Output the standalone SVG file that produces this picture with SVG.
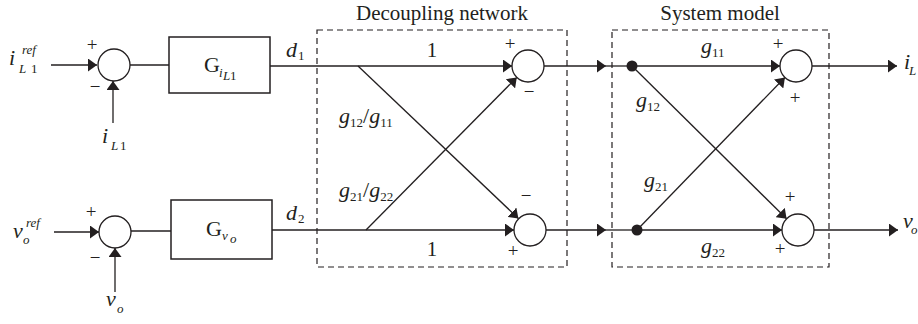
<svg xmlns="http://www.w3.org/2000/svg" width="918" height="324" viewBox="0 0 918 324">
<style>
.ln{stroke:#231f20;stroke-width:1.3;fill:none}
.dash{stroke:#231f20;stroke-width:1.2;fill:none;stroke-dasharray:6 4}
.sum{fill:#fff;stroke:#231f20;stroke-width:1.3}
.blk{fill:#fff;stroke:#231f20;stroke-width:1.5}
text{font-family:"Liberation Serif","Times New Roman",serif;fill:#231f20}
.it{font-style:italic;font-size:22px}
.sub{font-style:italic;font-size:13px}
.subr{font-style:normal;font-size:13px}
.sg{font-size:19px;text-anchor:middle}
.ttl{font-size:21px;text-anchor:middle}
.num{font-size:21px;text-anchor:middle}
.G{font-size:22px}
</style>
<defs>
<marker id="ah" markerUnits="userSpaceOnUse" markerWidth="10" markerHeight="13" refX="9" refY="6.5" orient="auto">
<path d="M0,0 L9,6.5 L0,13 z" fill="#231f20"/>
</marker>
</defs>

<g id="connectors">
<line class="ln" x1="51" y1="65" x2="97" y2="65" marker-end="url(#ah)"/>
<line class="ln" x1="113" y1="123" x2="113" y2="81" marker-end="url(#ah)"/>
<line class="ln" x1="130" y1="65" x2="169" y2="65"/>
<line class="ln" x1="54" y1="232" x2="99" y2="232" marker-end="url(#ah)"/>
<line class="ln" x1="115" y1="292" x2="115" y2="248" marker-end="url(#ah)"/>
<line class="ln" x1="131" y1="231" x2="171" y2="231"/>
<line class="ln" x1="270" y1="66" x2="512" y2="66" marker-end="url(#ah)"/>
<line class="ln" x1="272" y1="230" x2="514" y2="230" marker-end="url(#ah)"/>
<line class="ln" x1="358" y1="66" x2="518.4" y2="218.5" marker-end="url(#ah)"/>
<line class="ln" x1="366" y1="230" x2="516.8" y2="77.4" marker-end="url(#ah)"/>
<line class="ln" x1="544" y1="66" x2="606" y2="66" marker-end="url(#ah)"/>
<line class="ln" x1="606" y1="66" x2="632" y2="66"/>
<line class="ln" x1="546" y1="230" x2="606" y2="230" marker-end="url(#ah)"/>
<line class="ln" x1="606" y1="230" x2="637" y2="230"/>
<line class="ln" x1="632" y1="66" x2="780" y2="66" marker-end="url(#ah)"/>
<line class="ln" x1="637" y1="230" x2="782" y2="230" marker-end="url(#ah)"/>
<line class="ln" x1="632" y1="66" x2="786.6" y2="218.8" marker-end="url(#ah)"/>
<line class="ln" x1="637" y1="230" x2="784.9" y2="77.5" marker-end="url(#ah)"/>
<line class="ln" x1="812" y1="66" x2="897" y2="66" marker-end="url(#ah)"/>
<line class="ln" x1="814" y1="230" x2="898" y2="230" marker-end="url(#ah)"/>
</g>

<g id="decoupling-network">
<rect class="dash" x="317" y="30" width="250" height="237"/>
<text class="ttl" x="442" y="20">Decoupling network</text>
</g>
<g id="system-model">
<rect class="dash" x="612" y="30" width="217" height="237"/>
<text class="ttl" x="720" y="20">System model</text>
</g>

<g id="input-iL1ref">
<text class="it" x="9" y="65">i</text>
<text class="sub" x="22" y="54">ref</text>
<text class="sub" x="19" y="73">L</text>
<text class="subr" x="31" y="73">1</text>
</g>
<g id="sum1">
<circle class="sum" cx="114" cy="65" r="16"/>
<text class="sg" x="92" y="51">+</text>
<text class="sg" x="95" y="93">−</text>
</g>
<g id="fb-iL1">
<text class="it" x="102" y="143">i</text>
<text class="sub" x="111" y="150">L</text>
<text class="subr" x="120" y="150">1</text>
</g>
<g id="G-iL1">
<rect class="blk" x="169" y="37" width="101" height="56"/>
<text class="G" x="204" y="72">G</text>
<text class="sub" x="219" y="77">i</text>
<text class="sub" x="223" y="80" font-size="11">L</text>
<text class="subr" x="230" y="80" font-size="11">1</text>
</g>
<g id="label-d1">
<text class="it" x="286" y="57">d</text>
<text class="subr" x="298" y="60">1</text>
</g>

<g id="input-voref">
<text class="it" x="13" y="238">v</text>
<text class="sub" x="26" y="227">ref</text>
<text class="sub" x="23" y="244">o</text>
</g>
<g id="sum2">
<circle class="sum" cx="115" cy="232" r="16"/>
<text class="sg" x="91" y="218">+</text>
<text class="sg" x="95" y="264">−</text>
</g>
<g id="fb-vo">
<text class="it" x="106" y="306">v</text>
<text class="sub" x="117" y="313">o</text>
</g>
<g id="G-vo">
<rect class="blk" x="171" y="200" width="101" height="59"/>
<text class="G" x="206" y="236">G</text>
<text class="sub" x="222" y="240">v</text>
<text class="sub" x="230" y="243">o</text>
</g>
<g id="label-d2">
<text class="it" x="286" y="220">d</text>
<text class="subr" x="298" y="223">2</text>
</g>

<g id="dec-labels">
<text class="num" x="432" y="57">1</text>
<text class="num" x="432" y="256">1</text>
<text class="it" x="339" y="123">g<tspan class="subr" dy="4">12</tspan><tspan dy="-4" font-style="normal">/</tspan>g<tspan class="subr" dy="4">11</tspan></text>
<text class="it" x="339" y="197">g<tspan class="subr" dy="4">21</tspan><tspan dy="-4" font-style="normal">/</tspan>g<tspan class="subr" dy="4">22</tspan></text>
</g>
<g id="dec-sum1">
<circle class="sum" cx="528" cy="66" r="16"/>
<text class="sg" x="510" y="50">+</text>
<text class="sg" x="529" y="98">−</text>
</g>
<g id="dec-sum2">
<circle class="sum" cx="530" cy="230" r="16"/>
<text class="sg" x="526" y="202">−</text>
<text class="sg" x="513" y="257">+</text>
</g>

<g id="sys-labels">
<text class="it" x="701" y="53">g<tspan class="subr" dy="4">11</tspan></text>
<text class="it" x="701" y="253">g<tspan class="subr" dy="4">22</tspan></text>
<text class="it" x="636" y="107">g<tspan class="subr" dy="4">12</tspan></text>
<text class="it" x="644" y="187">g<tspan class="subr" dy="4">21</tspan></text>
</g>
<g id="node-top">
<circle cx="632" cy="66" r="5.5" fill="#231f20"/>
</g>
<g id="node-bottom">
<circle cx="637" cy="230" r="5.5" fill="#231f20"/>
</g>
<g id="sys-sum1">
<circle class="sum" cx="796" cy="66" r="16"/>
<text class="sg" x="778" y="50">+</text>
<text class="sg" x="795" y="104">+</text>
</g>
<g id="sys-sum2">
<circle class="sum" cx="798" cy="230" r="16"/>
<text class="sg" x="790" y="203">+</text>
<text class="sg" x="780" y="255">+</text>
</g>

<g id="out-iL">
<text class="it" x="904" y="69">i</text>
<text class="sub" x="909" y="75">L</text>
</g>
<g id="out-vo">
<text class="it" x="903" y="228">v</text>
<text class="sub" x="911" y="234" font-size="11">o</text>
</g>
</svg>
